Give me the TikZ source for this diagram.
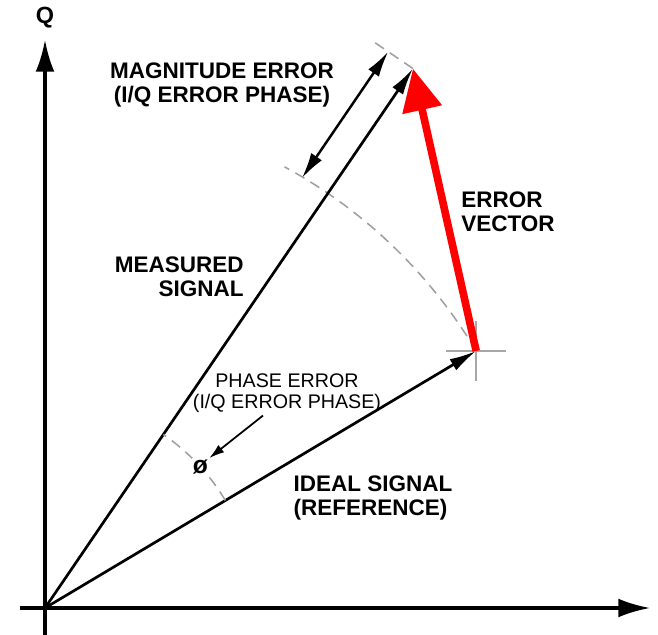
\documentclass[tikz,border=0pt]{standalone}
\usepackage{fontspec}
\setmainfont{Liberation Sans}
\usetikzlibrary{arrows.meta,positioning,calc}

\begin{document}
\begin{tikzpicture}[x=0.03cm, y=0.03cm,
    lbl/.style={font=\fontsize{19.2}{20.5}\selectfont\bfseries, align=left, inner sep=1pt},
    small lbl/.style={font=\fontsize{16.8}{17.5}\selectfont, align=center, inner sep=1pt},
    vec/.style={line width=2.3pt, -{Latex[length=23pt, width=11pt]}},
    guide/.style={gray!75, line width=1.3pt, dash pattern=on 9pt off 6pt},
    axis/.style={line width=2.6pt, -{Latex[length=27pt, width=16pt]}}]
    \useasboundingbox (-45,-27) rectangle (613,608);

    % Key points
    \coordinate (O) at (0,0);
    \coordinate (M) at (55.7:653);
    \coordinate (S) at (30.8:502);

    % Axes
    \coordinate (Qstart) at (0,-27);
    \coordinate (Qend) at (0,568);
    \coordinate (Istart) at (-25,0);
    \coordinate (Iend) at (605,0);
    \draw[axis] (Qstart) -- (Qend);
    \draw[axis] (Istart) -- (Iend);
    \node[font=\fontsize{20}{22}\selectfont\bfseries] (qlabel) at (0,590) {Q};

    % Constant-magnitude arc
    \draw[guide] (S) arc[start angle=30.8, end angle=61.5, radius=502];

    % Ideal and measured vectors
    \draw[vec] (O) -- (S);
    \draw[vec] (O) -- (M);

    % Crosshair at ideal point
    \coordinate (Sl) at ($(S)+(-30,0)$);
    \coordinate (Sr) at ($(S)+(30,0)$);
    \coordinate (Sd) at ($(S)+(0,-30)$);
    \coordinate (Su) at ($(S)+(0,30)$);
    \draw[gray!70, line width=1.3pt] (Sl) -- (Sr);
    \draw[gray!70, line width=1.3pt] (Sd) -- (Su);

    % Magnitude error
    \coordinate (Mtick) at ($(M)+(145.7:50)$);
    \draw[guide] (M) -- (Mtick);
    \coordinate (magA) at ($(55.7:500)+(145.7:30)$);
    \coordinate (magB) at ($(55.7:653)+(145.7:30)$);
    \draw[line width=2.1pt, {Latex[length=22pt,width=11pt]}-{Latex[length=22pt,width=11pt]}] (magA) -- (magB);

    % Error vector
    \draw[red, line width=6.5pt, -{Triangle[length=36pt, width=33pt]}] (S) -- (M);

    % Phase error
    \draw[guide] (30.8:210) arc[start angle=30.8, end angle=55.7, radius=210];
    \node[fill=white, inner sep=1pt, font=\fontsize{21}{22}\selectfont\bfseries] (phi) at (42.3:210) {ø};

    % Labels
    \node[lbl, align=center] (magerr) at (177,523) {MAGNITUDE ERROR\\(I/Q ERROR PHASE)};
    \node[lbl] (errvec) at (463,396) {ERROR\\VECTOR};
    \node[lbl, align=right, anchor=east] (meas) at (200,331) {MEASURED\\SIGNAL};
    \node[lbl] (ideal) at (328,110) {IDEAL SIGNAL\\(REFERENCE)};
    \node[small lbl] (perr) at (242,215) {PHASE ERROR\\(I/Q ERROR PHASE)};
    \coordinate (perrtail) at ($(perr.south)+(-24,-2)$);
    \draw[line width=1.5pt, -{Latex[length=13pt,width=8pt]}] (perrtail) -- (phi.north east);
\end{tikzpicture}
\end{document}
